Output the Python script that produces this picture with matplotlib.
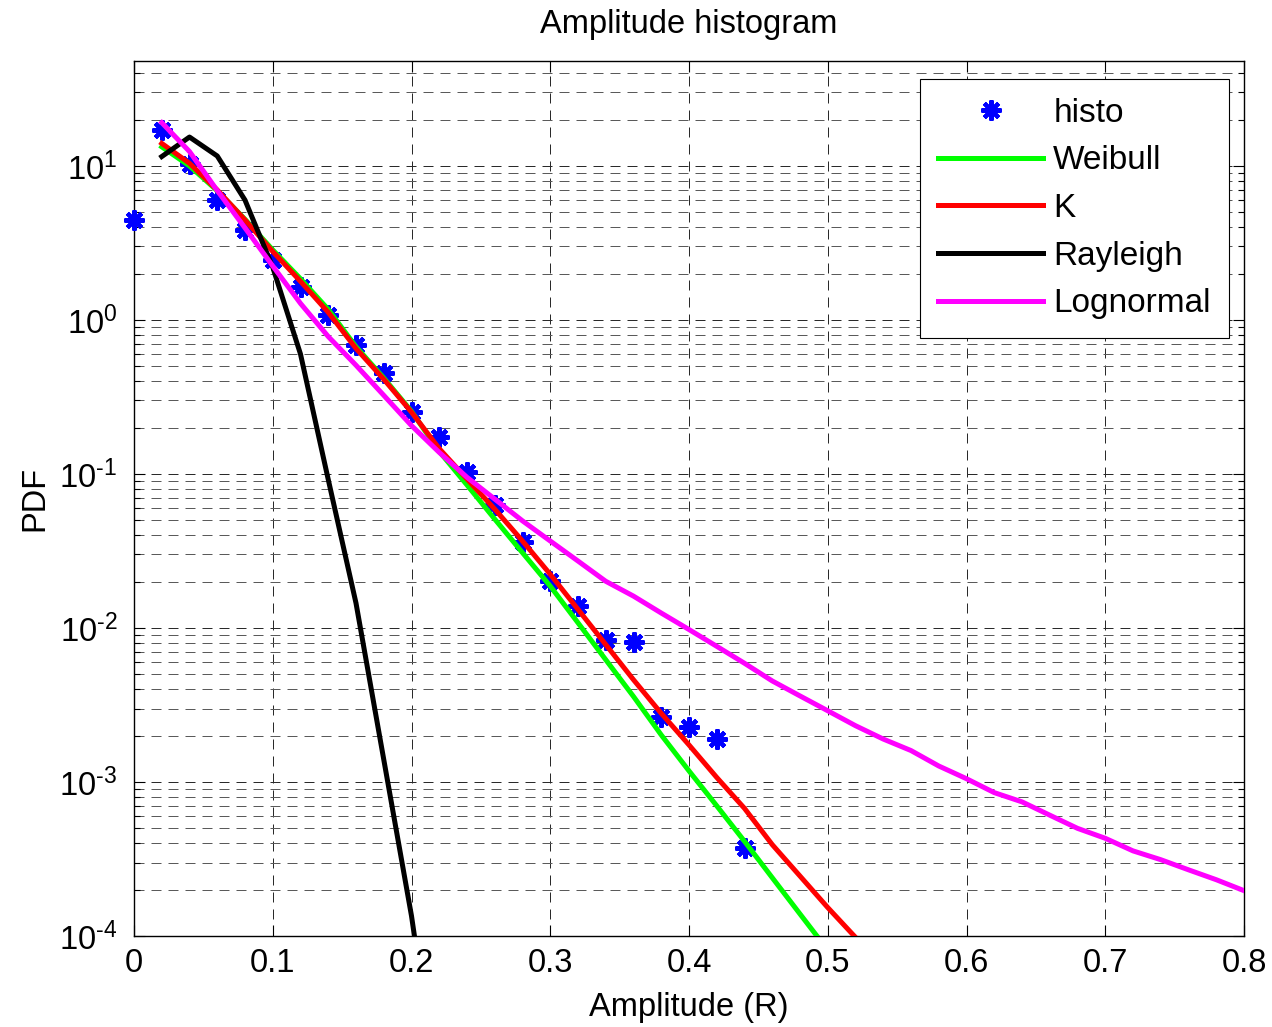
import matplotlib
matplotlib.use("Agg")
import numpy as np
import matplotlib.pyplot as plt
from matplotlib.ticker import LogLocator, NullFormatter, NullLocator, FixedLocator, FuncFormatter

plt.rcParams['font.family'] = ['Liberation Sans', 'DejaVu Sans']
plt.rcParams['mathtext.fontset'] = 'custom'
plt.rcParams['mathtext.rm'] = 'Liberation Sans'
plt.rcParams['mathtext.it'] = 'Liberation Sans:italic'
plt.rcParams['mathtext.bf'] = 'Liberation Sans:bold'
plt.rcParams['axes.unicode_minus'] = False

# histogram bin centres and estimated pdf
hist_x = [0.00, 0.02, 0.04, 0.06, 0.08, 0.10, 0.12, 0.14, 0.16, 0.18, 0.20, 0.22,
          0.24, 0.26, 0.28, 0.30, 0.32, 0.34, 0.36, 0.38, 0.40, 0.42, 0.44]
histo = [4.45, 17.1, 10.3, 6.0, 3.84, 2.45, 1.64, 1.08, 0.686, 0.453, 0.253, 0.175,
         0.103, 0.0625, 0.036, 0.0203, 0.0138, 0.00838, 0.0081, 0.00265, 0.00229,
         0.0019, 0.000373]

# amplitude grid for the fitted models
amp = [0.02, 0.04, 0.06, 0.08, 0.10, 0.12, 0.14, 0.16, 0.18, 0.20,
       0.22, 0.24, 0.26, 0.28, 0.30, 0.32, 0.34, 0.36, 0.38, 0.40,
       0.42, 0.44, 0.46, 0.48, 0.50, 0.52, 0.54, 0.56, 0.58, 0.60,
       0.62, 0.64, 0.66, 0.68, 0.70, 0.72, 0.74, 0.76, 0.78, 0.80]

weibull = [13.3, 10.0, 6.9, 4.5, 2.85, 1.85, 1.17, 0.67, 0.42, 0.255,
           0.140, 0.0848, 0.0509, 0.0308, 0.0187, 0.0108, 0.00622, 0.00359, 0.00202, 0.00118,
           7.0e-4, 4.12e-4, 2.39e-4, 1.39e-4, 8.1e-5]

k_dist = [14.0, 10.4, 6.98, 4.46, 2.78, 1.78, 1.12, 0.653, 0.412, 0.252,
          0.146, 0.0927, 0.0591, 0.0367, 0.0223, 0.0132, 0.0078, 0.00461, 0.00279, 0.00174,
          1.07e-3, 6.74e-4, 3.92e-4, 2.45e-4, 1.53e-4, 9.8e-5, 6.2e-5]

rayleigh = [11.5, 15.4, 11.6, 6.0, 2.2, 0.6, 0.092, 0.0145, 1.4e-3, 1.35e-4, 8e-6]

lognormal = [19.1, 12.4, 6.92, 3.96, 2.24, 1.28, 0.78, 0.508, 0.324, 0.206,
             0.138, 0.0951, 0.0687, 0.0496, 0.0367, 0.0272, 0.0201, 0.0161, 0.0125, 0.00977,
             0.0076, 0.0059, 4.53e-3, 3.62e-3, 2.90e-3, 2.32e-3, 1.90e-3, 1.60e-3, 1.27e-3, 1.05e-3,
             8.53e-4, 7.43e-4, 6.09e-4, 5.0e-4, 4.31e-4, 3.57e-4, 3.13e-4, 2.69e-4, 2.32e-4, 1.97e-4]

xticks = [0, 0.1, 0.2, 0.3, 0.4, 0.5, 0.6, 0.7, 0.8]
xticklabels = ['0', '0.1', '0.2', '0.3', '0.4', '0.5', '0.6', '0.7', '0.8']

fs = 23.5
lw = 3.6


def decade_label(v, pos):
    # 10^n with a plain hyphen in the exponent
    e = int(round(np.log10(v)))
    return r'$\mathregular{10^{%s}}$' % str(e).replace('-', '\u2010')


fig = plt.figure(figsize=(12.72, 10.27), dpi=100)
ax = fig.add_axes([134 / 1272, 1 - 936 / 1027, 1110 / 1272, 875 / 1027])

ax.plot(hist_x, histo, linestyle='none', marker=(8, 2, 0), ms=14.5, mew=3.0,
        color='#0000ff', label='histo', clip_on=False, zorder=3)
ax.plot(amp[:len(weibull)], weibull, color='#00ff00', lw=lw, label='Weibull', zorder=4)
ax.plot(amp[:len(k_dist)], k_dist, color='#ff0000', lw=lw, label='K', zorder=4)
ax.plot(amp[:len(rayleigh)], rayleigh, color='k', lw=lw, label='Rayleigh', zorder=4)
ax.plot(amp, lognormal, color='#ff00ff', lw=lw, label='Lognormal', zorder=4)

ax.set_yscale('log')
ax.set_xlim(0, 0.8)
ax.set_ylim(1e-4, 48)

ax.xaxis.set_major_locator(FixedLocator(xticks))
ax.set_xticklabels(xticklabels)
ax.xaxis.set_minor_locator(NullLocator())
ax.yaxis.set_major_locator(LogLocator(base=10, numticks=20))
ax.yaxis.set_major_formatter(FuncFormatter(decade_label))
ax.yaxis.set_minor_locator(LogLocator(base=10, subs=range(2, 10), numticks=100))
ax.yaxis.set_minor_formatter(NullFormatter())

dash = (0, (10, 7))
ax.grid(True, which='major', linestyle=dash, color='#2a2a2a', linewidth=0.72)
ax.grid(True, which='minor', axis='y', linestyle=dash, color='#5a5a5a', linewidth=0.72)
ax.set_axisbelow(True)

ax.tick_params(which='both', direction='in', top=True, right=True, width=0.8, labelsize=fs)
ax.tick_params(which='major', length=8)
ax.tick_params(which='minor', length=4)
ax.tick_params(axis='x', pad=9)
ax.tick_params(axis='y', pad=12)
for s in ax.spines.values():
    s.set_linewidth(1.0)

ax.set_title('Amplitude histogram', fontsize=fs, pad=20)
ax.set_xlabel('Amplitude (R)', fontsize=fs, labelpad=9)
ax.set_ylabel('PDF', fontsize=fs, labelpad=6)

leg = ax.legend(loc='upper right', bbox_to_anchor=(0.9865, 0.979), borderaxespad=0,
                fontsize=24, fancybox=False, edgecolor='k', framealpha=1,
                handlelength=3.15, handletextpad=0.3, labelspacing=0.5, borderpad=0.55)
leg.get_frame().set_linewidth(0.8)

fig.savefig('out.png', dpi=100)
